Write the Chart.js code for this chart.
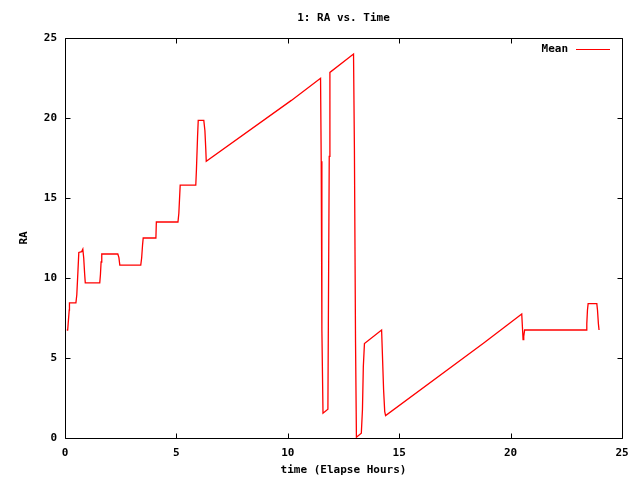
<!DOCTYPE html>
<html>
<head>
<meta charset="utf-8">
<title>1: RA vs. Time</title>
<script src="https://cdn.jsdelivr.net/npm/chart.js@4/dist/chart.umd.min.js"></script>
<style>
  html, body { margin: 0; padding: 0; background: #fff; }
  canvas { display: block; }
</style>
</head>
<body>
<canvas id="chart" width="640" height="480"></canvas>
<script>
// RA (mean), elapsed hours vs value
const hours = [
  0.08, 0.12, 0.14, 0.19, 0.20, 0.49, 0.53, 0.58, 0.62, 0.75, 0.80, 0.84, 0.88, 0.91,
  1.56, 1.59, 1.62, 1.65, 2.37, 2.42, 2.46, 3.40, 3.44, 3.48, 3.51, 4.08, 4.10,
  5.07, 5.11, 5.17, 5.87, 5.90, 5.95, 5.98, 6.23, 6.28, 6.32, 6.34,
  10.16, 11.47, 11.50, 11.53, 11.58, 11.80, 11.82, 11.86, 11.89, 12.95, 12.99,
  13.04, 13.08, 13.30, 13.35, 13.39, 13.44, 14.21, 14.24, 14.30, 14.35, 14.39,
  18.78, 20.50, 20.53, 20.56, 20.59, 20.63, 23.39, 23.42, 23.45, 23.48, 23.87,
  23.90, 23.94, 23.97
];
const raMean = [
  6.75, 6.75, 7.1, 8.0, 8.45, 8.45, 8.95, 10.4, 11.6, 11.65, 11.8, 11.25, 10.3, 9.7,
  9.7, 10.2, 11.0, 11.5, 11.5, 11.27, 10.8, 10.8, 11.25, 12.05, 12.5, 12.5, 13.5,
  13.5, 14.05, 15.8, 15.8, 16.8, 18.85, 19.85, 19.85, 19.2, 18.0, 17.3,
  21.1, 22.48, 17.3, 6.75, 1.55, 1.8, 7.05, 17.6, 22.85, 24.0, 18.0,
  6.0, 0.05, 0.3, 1.75, 4.45, 5.9, 6.75, 5.5, 3.0, 1.65, 1.4,
  5.92, 7.75, 6.95, 6.15, 6.35, 6.75, 6.75, 7.15, 8.0, 8.4, 8.4,
  8.0, 7.15, 6.75
];
const xTicks = [0, 5, 10, 15, 20, 25];
const yTicks = [0, 5, 10, 15, 20, 25];

const titleText = '1: RA vs. Time';
const xTitle = 'time (Elapse Hours)';
const yTitle = 'RA';
const seriesName = 'Mean';

const FONT = 'bold 11px "DejaVu Sans Mono", "Liberation Mono", monospace';

// gnuplot-like frame: full border, inward ticks on all sides, labels
const gnuplotFrame = {
  id: 'gnuplotFrame',
  afterDatasetsDraw(chart) {
    const { ctx, chartArea: a, scales } = chart;
    const L = Math.round(a.left) + 0.5, R = Math.round(a.right) + 0.5;
    const T = Math.round(a.top) + 0.5, B = Math.round(a.bottom) + 0.5;
    const tl = 5;
    ctx.save();
    ctx.strokeStyle = '#000';
    ctx.lineWidth = 1;
    ctx.beginPath();
    ctx.rect(L, T, R - L, B - T);
    xTicks.forEach(v => {
      const x = Math.round(scales.x.getPixelForValue(v)) + 0.5;
      ctx.moveTo(x, B); ctx.lineTo(x, B - tl);
      ctx.moveTo(x, T); ctx.lineTo(x, T + tl);
    });
    yTicks.forEach(v => {
      const y = Math.round(scales.y.getPixelForValue(v)) + 0.5;
      ctx.moveTo(L, y); ctx.lineTo(L + tl, y);
      ctx.moveTo(R, y); ctx.lineTo(R - tl, y);
    });
    ctx.stroke();

    ctx.fillStyle = '#000';
    ctx.font = FONT;
    ctx.textBaseline = 'middle';
    ctx.textAlign = 'center';
    const cx = (a.left + a.right) / 2;
    ctx.fillText(titleText, cx, 18);
    ctx.fillText(xTitle, cx, 470);
    ctx.save();
    ctx.translate(24, (a.top + a.bottom) / 2);
    ctx.rotate(-Math.PI / 2);
    ctx.fillText(yTitle, 0, 0);
    ctx.restore();

    // key
    ctx.textAlign = 'right';
    ctx.fillText(seriesName, 568, 49);
    ctx.strokeStyle = '#ff0000';
    ctx.beginPath();
    ctx.moveTo(576, 49.5);
    ctx.lineTo(610, 49.5);
    ctx.stroke();
    ctx.restore();
  }
};

new Chart(document.getElementById('chart'), {
  type: 'line',
  data: {
    datasets: [{
      label: seriesName,
      data: hours.map((h, i) => ({ x: h, y: raMean[i] })),
      borderColor: '#ff0000',
      borderWidth: 1.3,
      pointRadius: 0,
      tension: 0,
      fill: false
    }]
  },
  options: {
    responsive: false,
    animation: false,
    devicePixelRatio: 1,
    layout: { padding: { top: 38, right: 18, bottom: 0, left: 0 } },
    plugins: {
      legend: { display: false },
      title: { display: false },
      tooltip: { enabled: false }
    },
    scales: {
      x: {
        type: 'linear',
        min: 0,
        max: 25,
        afterFit: s => { s.height = 42; },
        afterBuildTicks: s => { s.ticks = xTicks.map(v => ({ value: v })); },
        grid: { display: false, drawTicks: false },
        border: { display: false },
        ticks: { color: '#000', font: { family: '"DejaVu Sans Mono"', size: 11, weight: 'bold' }, padding: 9, maxRotation: 0 }
      },
      y: {
        type: 'linear',
        min: 0,
        max: 25,
        afterFit: s => { s.width = 65; },
        afterBuildTicks: s => { s.ticks = yTicks.map(v => ({ value: v })); },
        grid: { display: false, drawTicks: false },
        border: { display: false },
        ticks: { color: '#000', font: { family: '"DejaVu Sans Mono"', size: 11, weight: 'bold' }, padding: 8 }
      }
    }
  },
  plugins: [gnuplotFrame]
});
</script>
</body>
</html>
